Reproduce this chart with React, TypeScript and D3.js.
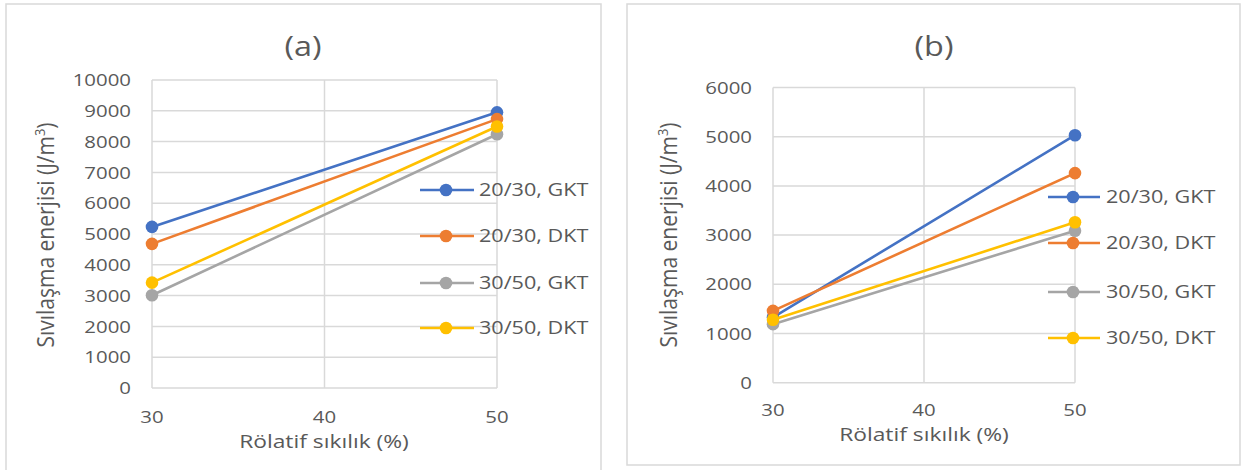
import React from "react";
import * as d3 from "d3";

const xValues = [30, 50];
const xTicks = [30, 40, 50];
const seriesNames = ["20/30, GKT", "20/30, DKT", "30/50, GKT", "30/50, DKT"];
const seriesColors = ["#4472C4", "#ED7D31", "#A5A5A5", "#FFC000"];
const panelATitle = "(a)";
const panelAValues = [
  [5230, 8950],
  [4680, 8730],
  [3010, 8240],
  [3420, 8490],
];
const panelAYTicks = [0, 1000, 2000, 3000, 4000, 5000, 6000, 7000, 8000, 9000, 10000];
const panelBTitle = "(b)";
const panelBValues = [
  [1330, 5030],
  [1460, 4260],
  [1190, 3090],
  [1280, 3260],
];
const panelBYTicks = [0, 1000, 2000, 3000, 4000, 5000, 6000];
const xTitle = "Rölatif sıkılık (%)";
const yTitleMain = "Sıvılaşma enerjisi (J/m";
const yTitleSup = "3";

const FONT = "'Open Sans', 'Noto Sans', sans-serif";
const TXT = "#595959";
const GRID = "#d9d9d9";
const SX = 1.2;

type PanelProps = {
  title: string;
  values: number[][];
  yTicks: number[];
  border: { x: number; y: number; w: number; h: number };
  plot: { left: number; right: number; top: number; bottom: number };
  titlePos: { x: number; y: number };
  yLabelX: number;
  xLabelY: number;
  xTitlePos: { x: number; y: number };
  yTitlePos: { x: number; y: number };
  legend: { x0: number; x1: number; xm: number; xt: number; ys: number[] };
};

function Panel(p: PanelProps) {
  const x = d3.scaleLinear().domain([30, 50]).range([p.plot.left, p.plot.right]);
  const y = d3
    .scaleLinear()
    .domain([0, p.yTicks[p.yTicks.length - 1]])
    .range([p.plot.bottom, p.plot.top]);
  const line = d3
    .line<number>()
    .x((_, i) => x(xValues[i]))
    .y((d) => y(d));
  return (
    <g>
      <rect x={p.border.x} y={p.border.y} width={p.border.w} height={p.border.h} fill="#fff" stroke={GRID} strokeWidth={1.5} />
      <text
        transform={`translate(${p.titlePos.x},${p.titlePos.y}) scale(${SX},1)`}
        textAnchor="middle"
        fontFamily={FONT}
        fontSize={27}
        fill={TXT}
      >
        {p.title}
      </text>
      {p.yTicks.map((t) => (
        <line key={"h" + t} x1={p.plot.left} x2={p.plot.right} y1={y(t)} y2={y(t)} stroke={GRID} strokeWidth={1.5} />
      ))}
      {xTicks.map((t) => (
        <line key={"v" + t} x1={x(t)} x2={x(t)} y1={p.plot.top} y2={p.plot.bottom} stroke={GRID} strokeWidth={1.5} />
      ))}
      {p.yTicks.map((t) => (
        <text
          key={"yl" + t}
          transform={`translate(${p.yLabelX},${y(t)}) scale(${SX},1)`}
          dy="0.36em"
          textAnchor="end"
          fontFamily={FONT}
          fontSize={17}
          fill={TXT}
        >
          {t}
        </text>
      ))}
      {xTicks.map((t) => (
        <text
          key={"xl" + t}
          transform={`translate(${x(t)},${p.xLabelY}) scale(${SX},1)`}
          textAnchor="middle"
          fontFamily={FONT}
          fontSize={17}
          fill={TXT}
        >
          {t}
        </text>
      ))}
      <text
        transform={`translate(${p.xTitlePos.x},${p.xTitlePos.y}) scale(${SX},1)`}
        textAnchor="middle"
        fontFamily={FONT}
        fontSize={19}
        fill={TXT}
      >
        {xTitle}
      </text>
      <text
        transform={`translate(${p.yTitlePos.x},${p.yTitlePos.y}) scale(1.12,1) rotate(-90)`}
        textAnchor="middle"
        fontFamily={FONT}
        fontSize={21}
        fill={TXT}
      >
        {yTitleMain}
        <tspan fontSize={13} dy={-8}>
          {yTitleSup}
        </tspan>
        <tspan dy={8}>)</tspan>
      </text>
      {p.values.map((vals, i) => (
        <g key={"s" + i}>
          <path d={line(vals) || ""} fill="none" stroke={seriesColors[i]} strokeWidth={2.6} strokeLinecap="round" />
          {vals.map((v, j) => (
            <circle key={j} cx={x(xValues[j])} cy={y(v)} r={6.3} fill={seriesColors[i]} />
          ))}
        </g>
      ))}
      {seriesNames.map((name, i) => (
        <g key={"lg" + i}>
          <line x1={p.legend.x0} x2={p.legend.x1} y1={p.legend.ys[i]} y2={p.legend.ys[i]} stroke={seriesColors[i]} strokeWidth={2.6} />
          <circle cx={p.legend.xm} cy={p.legend.ys[i]} r={6.3} fill={seriesColors[i]} />
          <text
            transform={`translate(${p.legend.xt},${p.legend.ys[i]}) scale(${SX},1)`}
            dy="0.36em"
            fontFamily={FONT}
            fontSize={18}
            fill={TXT}
          >
            {name}
          </text>
        </g>
      ))}
    </g>
  );
}

export default function App() {
  return (
    <svg
      width={1245}
      height={470}
      style={{ position: "absolute", left: 0, top: 0, background: "#fff" }}
    >
      <rect x={0} y={0} width={1245} height={470} fill="#fff" />
      <Panel
        title={panelATitle}
        values={panelAValues}
        yTicks={panelAYTicks}
        border={{ x: 6, y: 4, w: 595, h: 480 }}
        plot={{ left: 152, right: 497, top: 80, bottom: 388 }}
        titlePos={{ x: 303, y: 56 }}
        yLabelX={131}
        xLabelY={423}
        xTitlePos={{ x: 324, y: 448 }}
        yTitlePos={{ x: 54, y: 235 }}
        legend={{ x0: 420, x1: 474, xm: 446, xt: 479, ys: [190, 236, 283, 328] }}
      />
      <Panel
        title={panelBTitle}
        values={panelBValues}
        yTicks={panelBYTicks}
        border={{ x: 627, y: 4, w: 613, h: 461 }}
        plot={{ left: 773, right: 1075, top: 87.5, bottom: 382.7 }}
        titlePos={{ x: 934, y: 56 }}
        yLabelX={752}
        xLabelY={416}
        xTitlePos={{ x: 924, y: 441 }}
        yTitlePos={{ x: 677, y: 235 }}
        legend={{ x0: 1048, x1: 1100, xm: 1073, xt: 1106, ys: [197, 243, 292, 338] }}
      />
    </svg>
  );
}
